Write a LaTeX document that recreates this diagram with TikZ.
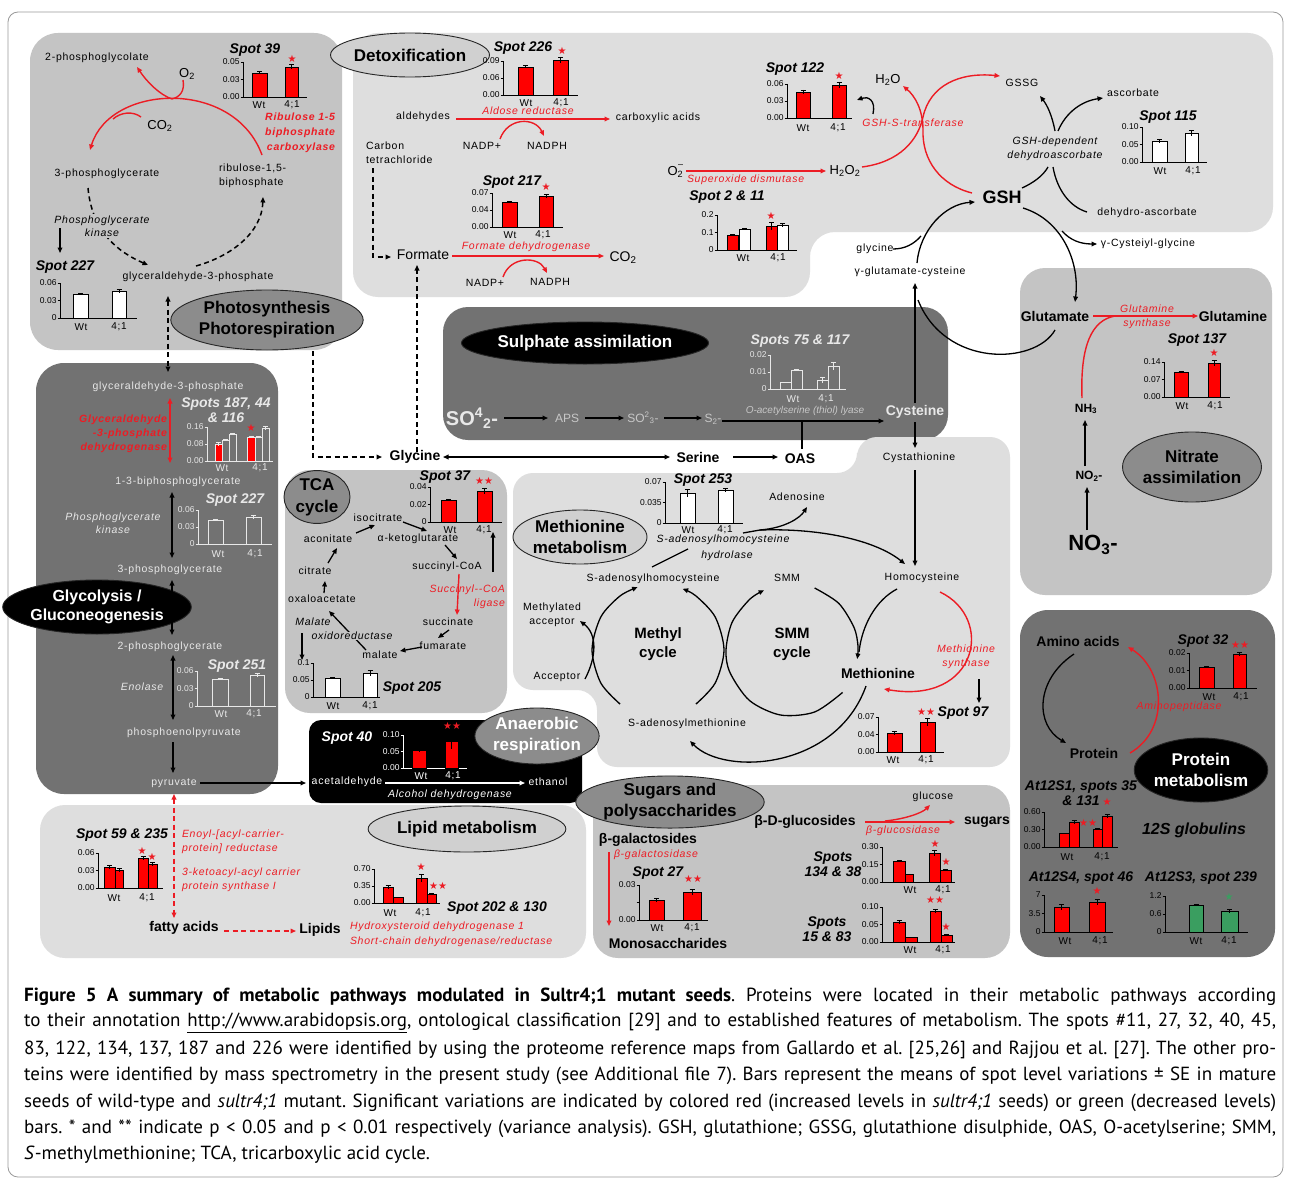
\documentclass[tikz,border=0pt]{standalone}
\usepackage{fontspec}
\setmainfont{Liberation Sans}
\newfontfamily\lsp[LetterSpace=7]{Liberation Sans}
\newfontfamily\capfont{PT Sans}
\newfontfamily\djv{DejaVu Sans}
\usetikzlibrary{arrows.meta,shapes.geometric}
\definecolor{cR}{RGB}{236,28,36}
\definecolor{cBar}{RGB}{255,0,0}
\definecolor{cLight}{RGB}{222,222,222}
\definecolor{cMid}{RGB}{196,196,196}
\definecolor{cDark}{RGB}{114,114,114}
\definecolor{cEllD}{RGB}{140,140,140}
\definecolor{cEllL}{RGB}{208,208,208}
\definecolor{cLt}{RGB}{232,232,232}
\definecolor{cGreen}{RGB}{58,158,96}
\colorlet{axc}{black}
\colorlet{barln}{black}
\newcommand\chAx[7]{%
  \draw[axc, line width=0.8pt] (#1,#2) -- (#1,#3) -- (#4,#3);
  \draw[axc, line width=0.8pt] (#1-2.5,#2) -- (#1,#2) (#1-2.5,{(#2+#3)/2}) -- (#1,{(#2+#3)/2}) (#1-2.5,#3) -- (#1,#3);
  \node[sTick, anchor=east, text=axc] at (#1-3.5,#2) {#5};
  \node[sTick, anchor=east, text=axc] at (#1-3.5,{(#2+#3)/2}) {#6};
  \node[sTick, anchor=east, text=axc] at (#1-3.5,#3) {#7};
}
\newcommand\chBar[6]{%
  \filldraw[fill=#1, draw=barln, line width=0.8pt] (#2,#5) rectangle (#3,#4);
  \draw[barln, line width=0.8pt] ({(#2+#3)/2},#4-#6) -- ({(#2+#3)/2},#4+#6)
     ({(#2+#3)/2-2.5},#4-#6) -- ({(#2+#3)/2+2.5},#4-#6);
}
\newcommand\chX[3]{%
  \node[sXl, text=axc] at (#1,#2) {Wt};
  \node[sXl, text=axc] at (#3,#2) {4;1};
}
\newcommand\chSt[4]{\node[text=#1, font=\djv\fontsize{10}{10}\selectfont] at (#2,#3) {#4};}
\begin{document}
\begin{tikzpicture}[x=1pt,y=-1pt,
  >={Triangle[length=5.5pt,width=4.6pt]},
  every node/.style={inner sep=0pt, outer sep=0pt},
  sLab/.style={font=\lsp\fontsize{10.5}{14}\selectfont, align=center},
  sIt/.style={font=\lsp\itshape\fontsize{10.5}{13.5}\selectfont, align=center},
  sEnz/.style={font=\lsp\itshape\fontsize{10.5}{14}\selectfont, text=cR, align=center},
  sBold/.style={font=\bfseries\fontsize{14}{16}\selectfont},
  sTitle/.style={font=\bfseries\itshape\fontsize{14}{15}\selectfont, align=center},
  sEll/.style={ellipse, draw=black!85, line width=0.9pt, font=\bfseries\fontsize{17}{21}\selectfont, align=center},
  sTick/.style={font=\fontsize{8.5}{9}\selectfont},
  sXl/.style={font=\lsp\fontsize{10}{10}\selectfont},
  cnx/.style={line width=1.3pt},
  rcnx/.style={line width=1.4pt, cR},
  dcnx/.style={line width=1.5pt, dash pattern=on 5pt off 3.5pt},
]
\useasboundingbox (0,0) rectangle (1289,1180);
\fill[white] (0,0) rectangle (1289,1180);
\draw[black!40, line width=0.8pt, rounded corners=10pt] (8,12) rectangle (1283,1177);
% ---------------- panels
\fill[cMid, rounded corners=28pt] (30,33) rectangle (342,350);
\fill[cLight, rounded corners=25pt] (353,33) -- (1273,33) -- (1273,232) -- (810,232) -- (810,297) -- (353,297) -- cycle;
\fill[cDark, rounded corners=28pt] (36,363) rectangle (278,794);
\fill[cDark, rounded corners=25pt] (443,307) rectangle (948,440);
\fill[cMid, rounded corners=25pt] (1020,268) rectangle (1272,595);
\fill[cLight, rounded corners=20pt] (513,473) -- (857,473) -- (857,437) -- (1010,437) -- (1010,767) -- (597,767) -- (597,690) -- (513,690) -- cycle;
\fill[cMid, rounded corners=25pt] (285,470) rectangle (507,713);
\fill[black, rounded corners=12pt] (309,720) rectangle (582,803);
\fill[cLight, rounded corners=25pt] (40,805) rectangle (586,958);
\fill[cMid, rounded corners=25pt] (593,785) rectangle (1010,958);
\fill[cDark, rounded corners=28pt] (1020,610) rectangle (1275,957);
% ---------------- ellipses
\node[sEll, fill=cEllD, minimum width=174pt, minimum height=60pt] (ePhoto) at (267,320) {Photosynthesis\\Photorespiration};
\node[sEll, fill=cEllL, minimum width=134pt, minimum height=44pt] (eDetox) at (410,55) {Detoxification};
\node[sEll, fill=black, text=white, minimum width=208pt, minimum height=42pt] (eSulph) at (585,343) {Sulphate assimilation};
\node[sEll, fill=cEllD, minimum width=138pt, minimum height=70pt] (eNitr) at (1192,467) {Nitrate\\assimilation};
\node[sEll, fill=cEllL, minimum width=134pt, minimum height=54pt] (eMet) at (580,537) {Methionine\\metabolism};
\node[sEll, fill=cEllD, minimum width=66pt, minimum height=50pt, font=\bfseries\fontsize{17}{22}\selectfont] (eTCA) at (317,497) {TCA\\cycle};
\node[sEll, fill=black, text=white, minimum width=140pt, minimum height=54pt, font=\bfseries\fontsize{16}{19}\selectfont] (eGly) at (97,607) {Glycolysis /\\Gluconeogenesis};
\node[sEll, fill=cEllD, text=white, minimum width=114pt, minimum height=56pt] (eAna) at (537,736) {Anaerobic\\respiration};
\node[sEll, fill=cEllL, minimum width=190pt, minimum height=46pt] (eLip) at (467,829) {Lipid metabolism};
\node[sEll, fill=cEllD, minimum width=182pt, minimum height=48pt] (eSug) at (670,802) {Sugars and\\polysaccharides};
\node[sEll, fill=black, text=white, minimum width=122pt, minimum height=64pt] (eProt) at (1201,770) {Protein\\metabolism};
% ---------------- photosynthesis
\node[sLab] (pgcl) at (97,58) {2-phosphoglycolate};
\node[font=\fontsize{13}{14}\selectfont] (o2a) at (187,74) {O\textsubscript{2}};
\node[font=\fontsize{13}{14}\selectfont] (co2a) at (160,126) {CO\textsubscript{2}};
\draw[rcnx,->] (262,155) .. controls (234,78) and (110,84) .. (90,150);
\draw[rcnx,->] (172,99) .. controls (160,95) and (147,82) .. (137,67);
\draw[rcnx] (183,80) .. controls (185,91) and (180,97) .. (172,99);
\draw[rcnx] (141,117) .. controls (133,111) and (121,112) .. (113,119);
\node[sLab] (pg3) at (107,174) {3-phosphoglycerate};
\node[sLab, align=left, anchor=west] (rubp) at (219,176) {ribulose-1,5-\\biphosphate};
\node[font=\lsp\bfseries\itshape\fontsize{10.5}{15}\selectfont, text=cR, align=right, anchor=east] (rubisco) at (335,133) {Ribulose 1-5\\biphosphate\\carboxylase};
\draw[dcnx,->] (88,188) .. controls (92,232) and (118,252) .. (148,265);
\node[sIt, fill=cMid, inner sep=1pt] (pgk1) at (102,226) {Phosphoglycerate\\kinase};
\draw[dcnx,->] (196,266) .. controls (232,256) and (262,232) .. (263,197);
\draw[cnx,->] (60,228) -- (60,253);
\node[sLab] (gap1) at (198,277) {glyceraldehyde-3-phosphate};
\node[sTitle] (t39) at (255,50) {Spot 39};
\chAx{243}{62}{97}{307}{0.05}{0.03}{0.00}
\chBar{cBar}{252}{267}{73}{97}{1.5}
\chBar{cBar}{285}{298}{67}{97}{2.5}
\chSt{cR}{292}{59}{★}
\chX{259}{105}{292}
\node[sTitle] (t227a) at (65,267) {Spot 227};
\chAx{60}{283}{318}{137}{0.06}{0.03}{0}
\chBar{white}{73}{88}{294}{318}{1}
\chBar{white}{112}{126}{291}{318}{2}
\chX{81}{327}{119}
\draw[dcnx,<->] (168,296) -- (168,372);
\draw[dcnx,->] (313,351) -- (313,457) -- (382,457);
% ---------------- detoxification
\node[sTitle] (t226) at (523,48) {Spot 226};
\chAx{503}{61}{95}{578}{0.09}{0.06}{0.00}
\chBar{cBar}{518}{533}{67}{95}{1.5}
\chBar{cBar}{553}{568}{60}{95}{3}
\chSt{cR}{562}{51}{★}
\chX{526}{103}{561}
\node[sLab] (ald) at (423,117) {aldehydes};
\node[sLab] (carb) at (658,118) {carboxylic acids};
\node[sEnz] (aldr) at (528,111) {Aldose reductase};
\node[sLab] (nadp1) at (482,146) {NADP+};
\node[sLab] (nadph1) at (547,146) {NADPH};
\draw[rcnx,->] (456,119) -- (610,119);
\draw[rcnx,->] (500,139) .. controls (508,117) and (535,117) .. (544,136);
\node[sLab, align=left, anchor=north west] (ccl4) at (366,142) {Carbon\\tetrachloride};
\draw[dcnx,->] (373,168) -- (373,257) -- (391,257);
\node[font=\fontsize{14}{15}\selectfont] (form) at (423,255) {Formate};
\node[sTitle] (t217) at (512,182) {Spot 217};
\chAx{492}{193}{227}{563}{0.07}{0.04}{0.00}
\chBar{cBar}{502}{517}{202}{227}{1}
\chBar{cBar}{539}{553}{196}{227}{1.5}
\chSt{cR}{546}{187}{★}
\chX{510}{235}{543}
\node[sEnz] (fdh) at (526,247) {Formate dehydrogenase};
\draw[rcnx,->] (452,256) -- (604,256);
\node[font=\fontsize{14}{15}\selectfont] (co2b) at (623,258) {CO\textsubscript{2}};
\draw[rcnx,->] (503,277) .. controls (510,256) and (538,256) .. (547,273);
\node[sLab] (nadp2) at (485,283) {NADP+};
\node[sLab] (nadph2) at (550,282) {NADPH};
\draw[dcnx,->] (417,452) -- (417,265);
\node[font=\fontsize{13}{14}\selectfont, anchor=east] (o2m) at (683,171) {O\textsubscript{2}\kern-0.4em\raisebox{1.2ex}{\fontsize{9}{9}\selectfont –}};
\draw[rcnx,->] (686,171) -- (826,171);
\node[sEnz, anchor=west] (sod) at (687,180) {Superoxide dismutase};
\node[font=\fontsize{13}{14}\selectfont] (h2o2) at (845,171) {H\textsubscript{2}O\textsubscript{2}};
\node[sTitle] (t211) at (727,197) {Spot 2 \& 11};
\chAx{717}{215}{250}{797}{0.2}{0.1}{0}
\chBar{cBar}{727}{738}{235}{250}{1}
\chBar{white}{739}{750}{229}{250}{1}
\chBar{cBar}{766}{777}{226}{250}{4}
\chBar{white}{777}{788}{225}{250}{2}
\chSt{cR}{771}{216}{★}
\chX{743}{258}{778}
\node[sTitle] (t122) at (795,69) {Spot 122};
\chAx{787}{84}{118}{852}{0.06}{0.03}{0.00}
\chBar{cBar}{796}{810}{92}{118}{2}
\chBar{cBar}{832}{846}{85}{118}{3}
\chSt{cR}{839}{76}{★}
\chX{803}{128}{838}
\draw[cnx,->] (873,114) .. controls (876,100) and (868,96) .. (857,100);
\node[font=\fontsize{13}{14}\selectfont] (h2o) at (888,80) {H\textsubscript{2}O};
\node[sEnz] (gst) at (913,123) {GSH-S-transferase};
\draw[rcnx,->] (862,167) .. controls (900,162) and (918,140) .. (923,117) .. controls (930,85) and (960,72) .. (1000,76);
\draw[rcnx,->] (972,193) .. controls (940,185) and (922,160) .. (923,130) .. controls (923,110) and (915,96) .. (903,86);
\node[sLab] (gssg) at (1022,83) {GSSG};
\node[sLab] (asc) at (1133,93) {ascorbate};
\node[sIt] (dhar) at (1055,149) {GSH-dependent\\dehydroascorbate};
\node[font=\bfseries\fontsize{18}{19}\selectfont] (gsh) at (1002,197) {GSH};
\node[sLab] (dha) at (1147,213) {dehydro-ascorbate};
\draw[cnx,->] (1055,131) .. controls (1052,115) and (1047,105) .. (1040,96);
\draw[cnx,->] (1058,131) .. controls (1066,112) and (1082,101) .. (1103,98);
\draw[cnx] (1022,188) .. controls (1033,183) and (1043,176) .. (1048,167);
\draw[cnx] (1053,167) .. controls (1057,190) and (1070,207) .. (1087,212);
\node[sTitle] (t115) at (1168,117) {Spot 115};
\chAx{1142}{127}{162}{1207}{0.10}{0.05}{0.00}
\chBar{white}{1152}{1167}{141}{162}{1.5}
\chBar{white}{1185}{1198}{133}{162}{3}
\chX{1160}{171}{1193}
\node[sLab] (cysgly) at (1148,244) {γ-Cysteiyl-glycine};
\node[sLab] (glyc) at (875,249) {glycine};
\node[sLab] (gec) at (910,272) {γ-glutamate-cysteine};
\draw[cnx,->] (1023,208) .. controls (1062,220) and (1080,262) .. (1075,302);
\draw[cnx,->] (1062,231) .. controls (1070,240) and (1080,244) .. (1097,244);
\draw[cnx,->] (917,263) .. controls (920,230) and (945,204) .. (975,202);
\draw[cnx] (893,249) .. controls (905,249) and (914,244) .. (921,236);
\draw[cnx,->] (915,403) -- (915,283);
\draw[cnx] (1055,330) .. controls (1035,365) and (945,368) .. (918,300);
% ---------------- nitrate
\node[sBold] (glu) at (1055,316) {Glutamate};
\node[sBold] (gln) at (1233,316) {Glutamine};
\draw[rcnx,->] (1093,316) -- (1198,316);
\draw[rcnx] (1082,398) .. controls (1080,345) and (1092,320) .. (1115,316);
\node[sEnz] (gs1) at (1147,309) {Glutamine};
\node[sEnz] (gs2) at (1147,324) {synthase};
\node[sTitle] (t137) at (1197,340) {Spot 137};
\chAx{1164}{362}{397}{1230}{0.14}{0.07}{0.00}
\chBar{cBar}{1174}{1188}{372}{397}{1}
\chBar{cBar}{1208}{1220}{363}{397}{3}
\chSt{cR}{1214}{353}{★}
\chX{1182}{406}{1215}
\node[font=\bfseries\fontsize{12}{13}\selectfont] (nh3) at (1086,409) {NH\textsubscript{3}};
\node[font=\bfseries\fontsize{12}{13}\selectfont] (no2) at (1089,476) {NO\textsubscript{2}-};
\node[font=\bfseries\fontsize{22}{24}\selectfont] (no3) at (1093,545) {NO\textsubscript{3}-};
\draw[cnx,->] (1085,466) -- (1085,420);
\draw[cnx,->] (1087,530) -- (1087,487);
% ---------------- sulphate
\node[font=\bfseries\fontsize{20}{22}\selectfont, text=cLt] (so4) at (472,418) {SO\textsuperscript{4}\textsubscript{2}-};
\node[font=\fontsize{12}{13}\selectfont, text=black!22] (aps) at (567,418) {APS};
\node[font=\fontsize{12}{13}\selectfont, text=black!22] (so3) at (643,418) {SO\textsuperscript{2}\textsubscript{3}-};
\node[font=\fontsize{12}{13}\selectfont, text=black!22] (s2) at (713,419) {S\textsubscript{2}-};
\draw[cnx,->] (504,418) -- (548,418);
\draw[cnx,->] (585,418) -- (624,418);
\draw[cnx,->] (664,418) -- (702,418);
\node[font=\itshape\fontsize{10}{12}\selectfont, text=black!22] (oasl) at (805,411) {O-acetylserine (thiol) lyase};
\draw[cnx,->] (722,421) -- (884,421);
\node[font=\bfseries\fontsize{14}{15}\selectfont, text=cLt] (cys) at (915,412) {Cysteine};
\draw[cnx] (802,421) -- (802,449);
\begin{scope}
\colorlet{axc}{cLt}\colorlet{barln}{cLt}
\node[sTitle, text=cLt] (t75) at (800,341) {Spots 75 \& 117};
\chAx{770}{355}{389}{846}{0.02}{0.01}{0}
\chBar{cDark}{780}{791}{382}{389}{0}
\chBar{cDark}{791}{802}{370}{389}{0.7}
\chBar{cDark}{817}{828}{380}{389}{3}
\chBar{cDark}{828}{839}{366}{389}{4}
\chX{793}{399}{826}
\end{scope}
% ---------------- glycine row
\node[sBold] (gly) at (415,457) {Glycine};
\node[sBold] (ser) at (698,457) {Serine};
\node[sBold] (oas) at (800,459) {OAS};
\draw[cnx,<->] (443,457) -- (670,457);
\draw[cnx,->] (733,457) -- (778,457);
\draw[cnx,->] (915,422) -- (915,448);
% ---------------- methionine
\node[sLab] (cysta) at (919,458) {Cystathionine};
\node[sTitle] (t253) at (703,480) {Spot 253};
\chAx{665}{482}{523}{743}{0.07}{0.035}{0}
\chBar{white}{680}{695}{493}{523}{4}
\chBar{white}{718}{733}{490}{523}{2}
\chX{688}{530}{725}
\node[sIt] (sahh1) at (723,540) {S-adenosylhomocysteine};
\node[sIt] (sahh2) at (727,556) {hydrolase};
\node[sLab] (aden) at (797,497) {Adenosine};
\node[sLab] (smm) at (787,578) {SMM};
\node[sLab] (hcy) at (922,578) {Homocysteine};
\node[sLab] (sah) at (653,579) {S-adenosylhomocysteine};
\node[sLab] (macc) at (552,615) {Methylated\\acceptor};
\node[sLab] (acc) at (557,677) {Acceptor};
\node[sLab] (sam) at (687,724) {S-adenosylmethionine};
\node[font=\bfseries\fontsize{15}{19}\selectfont, align=center] (mcyc) at (658,644) {Methyl\\cycle};
\node[font=\bfseries\fontsize{15}{19}\selectfont, align=center] (scyc) at (792,644) {SMM\\cycle};
\node[sBold] (met) at (878,673) {Methionine};
\draw[cnx] (652,567) -- (688,549);
\draw[cnx] (743,533) -- (760,530);
\draw[cnx,->] (760,530) .. controls (785,528) and (800,518) .. (807,507);
\draw[cnx,->] (760,530) .. controls (820,528) and (875,540) .. (905,564);
\draw[cnx,->] (915,470) -- (915,566);
\draw[cnx,->] plot[smooth] coordinates {(620.1,704.1) (600.8,683) (592,650) (600.8,617) (620.1,595.9) (637.6,587.2)};
\draw[cnx,->] plot[smooth] coordinates {(695.9,704.1) (715.2,683) (724,650) (715.2,617) (695.9,595.9) (682.7,588.8)};
\draw[cnx,->] plot[smooth] coordinates {(842.6,692.4) (814.6,712) (780.5,715) (749.6,700.6) (730,672.6) (726,650) (732.2,622.1) (749.6,599.4) (764.1,590.2)};
\draw[cnx,->] plot[smooth] coordinates {(814.6,588) (838.7,603.3) (854,627.4) (858,646) (857.2,659)};
\draw[cnx] (897,589) .. controls (876,600) and (862,625) .. (859,652);
\draw[rcnx,->] (940,592) .. controls (995,618) and (978,705) .. (884,689);
\node[sEnz] (mets) at (966,657) {Methionine\\synthase};
\draw[cnx,->] (979,679) -- (979,703);
\draw[cnx,->] (866,686) .. controls (836,770) and (724,776) .. (690,741);
\draw[cnx,->] (585,679) .. controls (597,656) and (597,634) .. (580,621);
\chSt{cR}{926}{712}{★★}
\node[sTitle] (t97) at (963,713) {Spot 97};
\chAx{878}{717}{752}{944}{0.07}{0.04}{0.00}
\chBar{cBar}{887}{902}{733}{752}{1.5}
\chBar{cBar}{920}{935}{722}{752}{4}
\chX{893}{760}{926}
% ---------------- TCA
\node[sTitle] (t37) at (445,477) {Spot 37};
\chAx{430}{487}{522}{502}{0.04}{0.02}{0}
\chBar{cBar}{441}{456}{500}{522}{1}
\chBar{cBar}{477}{492}{491}{522}{2.5}
\chSt{cR}{484}{481}{★★}
\chX{450}{530}{484}
\node[sLab] (isoc) at (378,518) {isocitrate};
\node[sLab] (acon) at (328,539) {aconitate};
\node[sLab] (akg) at (418,539) {α-ketoglutarate};
\node[sLab] (succoa) at (447,567) {succinyl-CoA};
\node[sLab] (citr) at (315,571) {citrate};
\node[sLab] (oaa) at (322,599) {oxaloacetate};
\node[sLab] (succ) at (448,622) {succinate};
\node[sLab] (fum) at (443,646) {fumarate};
\node[sLab] (mal) at (380,655) {malate};
\draw[cnx,->] (356,533) -- (375,525);
\draw[cnx,->] (403,522) -- (427,531);
\draw[cnx,->] (445,545) -- (457,559);
\draw[rcnx,->] (459,574) -- (457,615);
\node[sEnz, align=right, anchor=east] (scl) at (505,597) {Succinyl-{}-CoA\\ligase};
\draw[cnx,->] (449,630) -- (438,638);
\draw[cnx,->] (422,647) -- (400,651);
\draw[cnx,->] (366,650) -- (329,611);
\node[sIt, fill=cMid, inner sep=0.5pt] (mdh1) at (313,622) {Malate};
\node[sIt, fill=cMid, inner sep=0.5pt] (mdh2) at (352,636) {oxidoreductase};
\draw[cnx,->] (324,593) -- (325,581);
\draw[cnx,->] (328,563) -- (337,548);
\draw[cnx,->] (302,633) -- (302,660);
\draw[cnx,->] (493,572) -- (493,532);
\chAx{313}{663}{697}{380}{0.1}{0.05}{0}
\chBar{white}{325}{340}{678}{697}{1}
\chBar{white}{363}{377}{673}{697}{2.5}
\chX{333}{706}{370}
\node[sTitle] (t205) at (412,688) {Spot 205};
% ---------------- anaerobic
\begin{scope}
\colorlet{axc}{white}
\node[sTitle, text=white] (t40) at (347,738) {Spot 40};
\chAx{403}{735}{768}{467}{0.10}{0.05}{0.00}
\chBar{cBar}{412}{426}{750}{768}{2}
\chBar{cBar}{445}{458}{741}{768}{8}
\chX{421}{776}{453}
\end{scope}
\chSt{cR}{452}{726}{★★}
\node[sLab, text=white] (acet) at (347,782) {acetaldehyde};
\node[sLab, text=white] (eth) at (548,782) {ethanol};
\draw[cnx, white, ->] (385,783) -- (525,783);
\node[sIt, text=white] (adh) at (450,795) {Alcohol dehydrogenase};
% ---------------- glycolysis
\node[sLab, text=cLt] (gap2) at (168,387) {glyceraldehyde-3-phosphate};
\node[sTitle, text=cLt, font=\bfseries\itshape\fontsize{14}{15}\selectfont] (t187) at (226,410) {Spots 187, 44\\\& 116};
\draw[rcnx,<->] (170,398) -- (170,463);
\node[font=\lsp\bfseries\itshape\fontsize{10.5}{14}\selectfont, text=cR, align=right, anchor=east] (gapdh) at (167,434) {Glyceraldehyde\\-3-phosphate\\dehydrogenase};
\begin{scope}
\colorlet{axc}{cLt}\colorlet{barln}{cLt}
\chAx{207}{427}{461}{273}{0.16}{0.08}{0.00}
\chBar{cBar}{215}{222}{444}{461}{1.5}
\chBar{cDark}{222}{229}{440}{461}{1}
\chBar{cDark}{229}{236}{434}{461}{1}
\chBar{cBar}{247}{255}{437}{461}{1}
\chBar{cDark}{255}{262}{437}{461}{1}
\chBar{cDark}{262}{269}{428}{461}{2}
\chX{222}{468}{260}
\node[sTitle, text=cLt] (t227b) at (235,500) {Spot 227};
\chAx{198}{510}{544}{272}{0.06}{0.03}{0}
\chBar{cDark}{208}{223}{520}{544}{1}
\chBar{cDark}{246}{261}{517}{544}{2}
\chX{218}{554}{255}
\node[sTitle, text=cLt] (t251) at (237,666) {Spot 251};
\chAx{197}{671}{706}{276}{0.06}{0.03}{0}
\chBar{cDark}{212}{228}{679}{706}{1}
\chBar{cDark}{250}{264}{675}{706}{2}
\chX{221}{714}{254}
\end{scope}
\chSt{cR}{251}{428}{★}
\node[sLab, text=cLt] (bpg) at (178,482) {1-3-biphosphoglycerate};
\draw[cnx,<->] (172,492) -- (172,558);
\node[sIt, text=cLt] (pgk2) at (113,523) {Phosphoglycerate\\kinase};
\node[sLab, text=cLt] (pg3b) at (170,570) {3-phosphoglycerate};
\draw[cnx,<->] (172,580) -- (172,635);
\node[sLab, text=cLt] (pg2) at (170,647) {2-phosphoglycerate};
\draw[cnx,<->] (173,655) -- (173,720);
\node[sIt, text=cLt] (eno) at (142,687) {Enolase};
\node[sLab, text=cLt] (pep) at (184,733) {phosphoenolpyruvate};
\draw[cnx,->] (173,742) -- (173,773);
\node[sLab, text=cLt] (pyr) at (174,783) {pyruvate};
\draw[cnx,->] (200,783) -- (306,783);
\draw[dcnx, cR, line width=1.3pt, <->] (174,794) -- (174,918);
% ---------------- lipid
\node[sTitle] (t59) at (122,835) {Spot 59 \& 235};
\chAx{98}{853}{888}{163}{0.06}{0.03}{0.00}
\chBar{cBar}{104}{115}{867}{888}{2}
\chBar{cBar}{115}{123}{870}{888}{2}
\chBar{cBar}{138}{148}{858}{888}{1.5}
\chBar{cBar}{148}{157}{864}{888}{2}
\chSt{cR}{142}{851}{★}
\chSt{cR}{152}{857}{★}
\chX{114}{898}{147}
\node[sEnz, align=left, anchor=west] (enr) at (182,842) {Enoyl-[acyl-carrier-\\protein] reductase};
\node[sEnz, align=left, anchor=west] (kas) at (182,880) {3-ketoacyl-acyl carrier\\protein synthase I};
\node[sBold] (fa) at (184,928) {fatty acids};
\node[sBold] (lip) at (320,930) {Lipids};
\draw[dcnx, cR, line width=1.3pt, ->] (224,931) -- (296,931);
\chAx{374}{869}{903}{440}{0.70}{0.35}{0.00}
\chBar{cBar}{383}{393}{887}{903}{2}
\chBar{cBar}{393}{403}{897}{903}{0}
\chBar{cBar}{416}{427}{878}{903}{4}
\chBar{cBar}{427}{436}{894}{903}{1}
\chSt{cR}{421}{867}{★}
\chSt{cR}{438}{886}{★★}
\chX{390}{913}{423}
\node[sTitle] (t202) at (497,908) {Spot 202 \& 130};
\node[sEnz, align=left, anchor=west] (hsd) at (350,927) {Hydroxysteroid dehydrogenase 1};
\node[sEnz, align=left, anchor=west] (sdr) at (350,942) {Short-chain dehydrogenase/reductase};
% ---------------- sugars
\node[sBold] (bdg) at (805,822) {β-D-glucosides};
\node[sBold] (sug) at (987,822) {sugars};
\draw[rcnx,->] (865,822) -- (955,822);
\draw[rcnx,->] (885,821) .. controls (905,819) and (922,813) .. (930,805);
\node[sLab] (glc) at (933,797) {glucose};
\node[sEnz] (bglu) at (903,831) {β-glucosidase};
\node[sBold] (bgal) at (648,840) {β-galactosides};
\node[sEnz] (bgalase) at (656,855) {β-galactosidase};
\draw[rcnx,->] (609,852) -- (609,926);
\node[sBold] (mono) at (668,943) {Monosaccharides};
\node[sTitle] (t27) at (658,873) {Spot 27};
\chAx{639}{885}{920}{708}{0.03}{}{0.00}
\chBar{cBar}{649}{664}{900}{920}{2}
\chBar{cBar}{683}{701}{892}{920}{3}
\chSt{cR}{693}{879}{★★}
\chX{657}{928}{692}
\node[sTitle] (t134) at (833,864) {Spots\\134 \& 38};
\chAx{882}{847}{882}{955}{0.30}{0.15}{0.00}
\chBar{cBar}{893}{905}{861}{882}{1}
\chBar{cBar}{905}{913}{874}{882}{0}
\chBar{cBar}{929}{940}{853}{882}{3}
\chBar{cBar}{940}{951}{870}{882}{1}
\chSt{cR}{935}{844}{★}
\chSt{cR}{946}{862}{★}
\chX{910}{890}{943}
\node[sTitle] (t15) at (827,929) {Spots\\15 \& 83};
\chAx{882}{907}{942}{955}{0.10}{0.05}{0.00}
\chBar{cBar}{893}{905}{922}{942}{2}
\chBar{cBar}{905}{917}{937}{942}{0}
\chBar{cBar}{930}{941}{911}{942}{2}
\chBar{cBar}{941}{952}{935}{942}{1}
\chSt{cR}{935}{900}{★★}
\chSt{cR}{946}{927}{★}
\chX{910}{950}{943}
% ---------------- protein
\node[sBold] (aa) at (1078,641) {Amino acids};
\node[sBold] (prot) at (1094,753) {Protein};
\draw[cnx,->] (1074,654) .. controls (1035,680) and (1035,725) .. (1066,743);
\draw[rcnx,->] (1130,753) .. controls (1170,730) and (1165,670) .. (1128,647);
\node[sEnz] (amp) at (1179,707) {Aminopeptidase};
\node[sTitle] (t32) at (1203,641) {Spot 32};
\chAx{1189}{653}{688}{1257}{0.02}{0.01}{0.00}
\chBar{cBar}{1199}{1214}{667}{688}{1}
\chBar{cBar}{1233}{1246}{654}{688}{2}
\chSt{cR}{1240}{645}{★★}
\chX{1209}{697}{1241}
\node[sTitle] (tS1) at (1081,793) {At12S1, spots 35\\\& 131};
\chAx{1044}{812}{847}{1118}{0.60}{0.30}{0.00}
\chBar{cBar}{1059}{1069}{833}{847}{0}
\chBar{cBar}{1069}{1079}{822}{847}{2}
\chBar{cBar}{1093}{1102}{829}{847}{1}
\chBar{cBar}{1102}{1112}{816}{847}{2}
\chSt{cR}{1088}{823}{★★}
\chSt{cR}{1107}{802}{★}
\chX{1067}{857}{1102}
\node[font=\bfseries\itshape\fontsize{16}{17}\selectfont] (glob) at (1194,830) {12S globulins};
\node[sTitle] (tS4) at (1081,878) {At12S4, spot 46};
\chAx{1044}{895}{932}{1113}{7}{3.5}{0}
\chBar{cBar}{1054}{1069}{907}{932}{3}
\chBar{cBar}{1089}{1105}{902}{932}{3}
\chSt{cR}{1097}{891}{★}
\chX{1065}{941}{1100}
\node[sTitle] (tS3) at (1201,878) {At12S3, spot 239};
\chAx{1165}{896}{932}{1248}{1.2}{0.6}{0}
\chBar{cGreen}{1189}{1203}{905}{932}{1}
\chBar{cGreen}{1221}{1238}{911}{932}{2}
\chSt{cGreen}{1229}{897}{★}
\chX{1196}{941}{1229}
% ---------------- caption
\begin{scope}[every node/.style={anchor=west, inner sep=0pt, font=\capfont\fontsize{19}{22}\selectfont\frenchspacing}]
\node (cap1) at (24,997) {\makebox[1252pt][s]{\textbf{Figure 5 A summary of metabolic pathways modulated in Sultr4;1 mutant seeds}. Proteins were located in their metabolic pathways according}};
\node (cap2) at (24,1023) {\makebox[1252pt][s]{to their annotation \underline{http://www.arabidopsis.org}, ontological classification [29] and to established features of metabolism. The spots \#11, 27, 32, 40, 45,}};
\node (cap3) at (24,1050) {\makebox[1252pt][s]{83, 122, 134, 137, 187 and 226 were identified by using the proteome reference maps from Gallardo et al. [25,26] and Rajjou et al. [27]. The other pro-}};
\node (cap4) at (24,1076) {\makebox[1252pt][s]{teins were identified by mass spectrometry in the present study (see Additional file 7). Bars represent the means of spot level variations ± SE in mature}};
\node (cap5) at (24,1103) {\makebox[1252pt][s]{seeds of wild-type and \textit{sultr4;1} mutant. Significant variations are indicated by colored red (increased levels in \textit{sultr4;1} seeds) or green (decreased levels)}};
\node (cap6) at (24,1129) {\makebox[1252pt][s]{bars. * and ** indicate p < 0.05 and p < 0.01 respectively (variance analysis). GSH, glutathione; GSSG, glutathione disulphide, OAS, O-acetylserine; SMM,}};
\node (cap7) at (24,1155) {\textit{S}-methylmethionine; TCA, tricarboxylic acid cycle.};
\end{scope}
\end{tikzpicture}
\end{document}
